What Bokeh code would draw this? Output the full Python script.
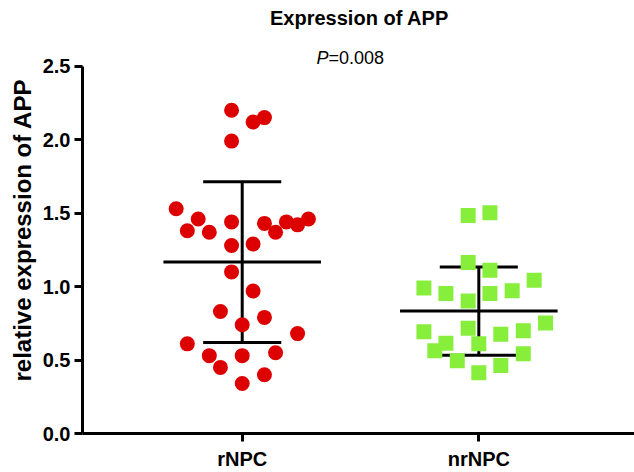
import numpy as np
from bokeh.plotting import figure
from bokeh.models import Range1d, FixedTicker, Label, NumeralTickFormatter, Title
from bokeh.embed import file_html
from bokeh.resources import INLINE

# ---------------- data ----------------
categories = ["rNPC", "nrNPC"]
cat_pos = [1, 2]

rnpc_values = [2.20, 2.12, 2.15, 1.99, 1.53, 1.46, 1.38, 1.37, 1.44, 1.43,
               1.37, 1.44, 1.42, 1.46, 1.28, 1.29, 1.10, 0.97, 0.83, 0.79,
               0.74, 0.68, 0.61, 0.53, 0.53, 0.55, 0.45, 0.40, 0.34]
rnpc_jitter = [-0.045, 0.046, 0.094, -0.045, -0.279, -0.186, -0.232, -0.139, -0.045, 0.094,
               0.141, 0.187, 0.234, 0.280, -0.045, 0.046, -0.045, 0.046, -0.092, 0.094,
               0.0, 0.234, -0.232, -0.139, 0.0, 0.141, -0.092, 0.094, 0.0]

nrnpc_values = [1.484, 1.502, 1.163, 1.111, 0.991, 0.953, 0.901, 0.953, 0.971, 1.043,
                0.693, 0.716, 0.675, 0.700, 0.752, 0.614, 0.564, 0.610, 0.542, 0.495,
                0.463, 0.413]
nrnpc_jitter = [-0.045, 0.047, -0.045, 0.047, -0.232, -0.139, -0.045, 0.047, 0.141, 0.234,
                -0.232, -0.045, 0.093, 0.188, 0.282, -0.139, -0.186, 0.0, 0.188, -0.091,
                0.093, 0.0]

group_means = [1.167, 0.833]
group_sds = [0.547, 0.301]

y_ticks = [0.0, 0.5, 1.0, 1.5, 2.0, 2.5]
y_axis_max = 2.5
title_text = "Expression of APP"
p_label = "P"
p_value_text = "=0.008"
y_label = "relative expression of APP"

# ---------------- styles ----------------
RED = "#DD0000"
GREEN = "#88EE3C"
FONT = "Liberation Sans"
MEAN_HALF = 0.333
CAP_HALF = 0.165

p = figure(width=634, height=472, output_backend="svg", toolbar_location=None,
           x_range=Range1d(0.325, 2.658), y_range=Range1d(0, 2.947),
           min_border_left=82, min_border_right=0, min_border_top=0, min_border_bottom=37)
p.background_fill_color = "white"
p.border_fill_color = "white"
p.outline_line_color = None
p.xgrid.grid_line_color = None
p.ygrid.grid_line_color = None

# error bars (mean +/- SD)
mx = np.array(cat_pos, dtype=float)
mm = np.array(group_means)
sd = np.array(group_sds)
p.segment(x0=mx - MEAN_HALF, x1=mx + MEAN_HALF, y0=mm, y1=mm, line_color="black", line_width=3)
p.segment(x0=mx, x1=mx, y0=mm - sd, y1=mm + sd, line_color="black", line_width=3)
p.segment(x0=mx - CAP_HALF, x1=mx + CAP_HALF, y0=mm + sd, y1=mm + sd, line_color="black", line_width=3)
p.segment(x0=mx - CAP_HALF, x1=mx + CAP_HALF, y0=mm - sd, y1=mm - sd, line_color="black", line_width=3)

# points
p.scatter(x=cat_pos[0] + np.array(rnpc_jitter), y=rnpc_values, marker="circle",
          size=15, fill_color=RED, line_color=None)
p.scatter(x=cat_pos[1] + np.array(nrnpc_jitter), y=nrnpc_values, marker="square",
          size=15, fill_color=GREEN, line_color=None)

# axes
for ax in (p.xaxis[0], p.yaxis[0]):
    ax.axis_line_width = 3
    ax.axis_line_color = "black"
    ax.major_tick_line_width = 3
    ax.major_tick_line_color = "black"
    ax.major_tick_out = 8
    ax.major_tick_in = 0
    ax.minor_tick_line_color = None
    ax.major_label_text_font = FONT
    ax.major_label_text_font_style = "bold"
    ax.major_label_text_color = "black"
    ax.major_label_text_font_size = "20px"

p.yaxis.ticker = FixedTicker(ticks=y_ticks)
p.yaxis.formatter = NumeralTickFormatter(format="0.0")
p.yaxis.major_label_standoff = 4
p.yaxis.bounds = (0, y_axis_max)

p.xaxis.ticker = FixedTicker(ticks=cat_pos)
p.xaxis.major_label_overrides = {cat_pos[i]: categories[i] for i in range(len(categories))}
p.xaxis.major_label_standoff = 6

# y axis title (left side panel)
p.add_layout(Title(text=y_label, align="left", offset=52, standoff=8,
                   text_font=FONT, text_font_style="bold", text_font_size="24px",
                   text_color="black"), "left")

# title and p value
p.add_layout(Label(x=277, y=416, x_units="screen", y_units="screen", text=title_text,
                   text_align="center", text_baseline="alphabetic",
                   text_font=FONT, text_font_style="bold", text_font_size="20px",
                   text_color="black"))
p.add_layout(Label(x=246, y=376, x_units="screen", y_units="screen", text=p_label,
                   text_align="right", text_baseline="alphabetic",
                   text_font=FONT, text_font_style="italic", text_font_size="18px",
                   text_color="black"))
p.add_layout(Label(x=246, y=376, x_units="screen", y_units="screen", text=p_value_text,
                   text_align="left", text_baseline="alphabetic",
                   text_font=FONT, text_font_style="normal", text_font_size="18px",
                   text_color="black"))

open("out.html", "w").write(file_html(p, INLINE))
